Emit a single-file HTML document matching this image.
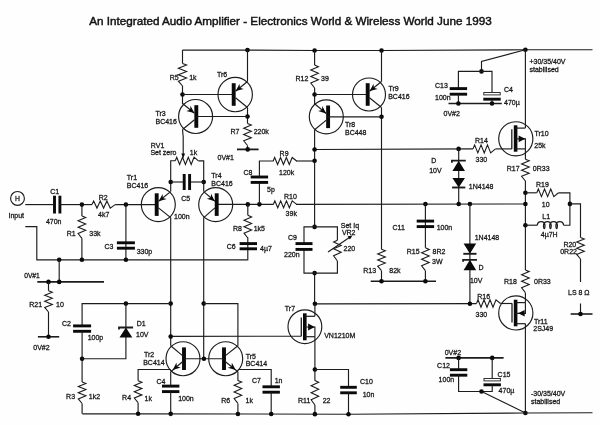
<!DOCTYPE html>
<html><head><meta charset="utf-8"><title>An Integrated Audio Amplifier</title>
<style>
html,body{margin:0;padding:0;background:#fefefe;}
svg{display:block;filter:grayscale(1);}
text{font-family:"Liberation Sans",sans-serif;fill:#151515;stroke:#151515;stroke-width:0.27;}
</style></head>
<body>
<svg width="600" height="425" viewBox="0 0 600 425">
<rect x="0" y="0" width="600" height="425" fill="#fefefe"/>
<text x="89.20" y="25.40" font-size="11.7" font-weight="normal" text-anchor="start" textLength="402.5" lengthAdjust="spacingAndGlyphs" style="stroke-width:0.45;fill:#111;stroke:#111">An Integrated Audio Amplifier - Electronics World &amp; Wireless World June 1993</text>
<polyline points="182.50,50.10 247.50,50.10 314.50,50.50 381.50,50.50 525.40,49.80 592.50,49.70" fill="none" stroke="#1c1c1c" stroke-width="1.15" stroke-linejoin="miter"/>
<polyline points="182.50,50.10 182.50,63.50" fill="none" stroke="#1c1c1c" stroke-width="1.15" stroke-linejoin="miter"/>
<polyline points="182.50,63.50 186.60,65.11 178.40,68.32 186.60,71.54 178.40,74.75 186.60,77.96 178.40,81.18 182.50,86.00" fill="none" stroke="#1c1c1c" stroke-width="1.1" stroke-linejoin="miter"/>
<polyline points="182.50,86.00 182.50,104.00" fill="none" stroke="#1c1c1c" stroke-width="1.15" stroke-linejoin="miter"/>
<circle cx="182.50" cy="94.50" r="2.3" fill="#0a0a0a"/>
<text x="169.70" y="80.40" font-size="7" font-weight="normal" text-anchor="start" >R5</text>
<text x="189.20" y="80.40" font-size="7" font-weight="normal" text-anchor="start" >1k</text>
<circle cx="247.50" cy="50.10" r="2.3" fill="#0a0a0a"/>
<polyline points="247.50,50.10 247.50,81.50" fill="none" stroke="#1c1c1c" stroke-width="1.15" stroke-linejoin="miter"/>
<polyline points="182.50,94.50 233.70,94.50" fill="none" stroke="#1c1c1c" stroke-width="1.15" stroke-linejoin="miter"/>
<circle cx="235.20" cy="94.50" r="17.2" fill="none" stroke="#1c1c1c" stroke-width="1.15"/>
<rect x="231.75" y="83.20" width="3.9" height="22.60" fill="#0a0a0a"/>
<polyline points="235.50,91.20 247.50,81.50" fill="none" stroke="#1c1c1c" stroke-width="1.15" stroke-linejoin="miter"/>
<polyline points="235.50,97.80 247.50,107.50" fill="none" stroke="#1c1c1c" stroke-width="1.15" stroke-linejoin="miter"/>
<polygon points="235.70,91.10 239.54,83.76 239.84,87.76 243.69,88.89" fill="#0a0a0a"/>
<polyline points="247.50,107.50 247.50,123.50" fill="none" stroke="#1c1c1c" stroke-width="1.15" stroke-linejoin="miter"/>
<circle cx="247.50" cy="116.50" r="2.3" fill="#0a0a0a"/>
<text x="217.00" y="77.00" font-size="7" font-weight="normal" text-anchor="start" >Tr6</text>
<circle cx="195.60" cy="116.50" r="17" fill="none" stroke="#1c1c1c" stroke-width="1.15"/>
<rect x="194.35" y="105.20" width="3.9" height="22.60" fill="#0a0a0a"/>
<polyline points="194.50,113.20 182.50,103.50" fill="none" stroke="#1c1c1c" stroke-width="1.15" stroke-linejoin="miter"/>
<polyline points="194.50,119.80 182.50,129.50" fill="none" stroke="#1c1c1c" stroke-width="1.15" stroke-linejoin="miter"/>
<polygon points="194.30,113.10 186.31,110.89 190.16,109.76 190.46,105.76" fill="#0a0a0a"/>
<polyline points="196.30,116.50 247.50,116.50" fill="none" stroke="#1c1c1c" stroke-width="1.15" stroke-linejoin="miter"/>
<polyline points="182.50,129.50 183.20,137.00 183.20,154.00" fill="none" stroke="#1c1c1c" stroke-width="1.15" stroke-linejoin="miter"/>
<text x="155.50" y="116.20" font-size="7" font-weight="normal" text-anchor="start" >Tr3</text>
<text x="155.50" y="123.80" font-size="7" font-weight="normal" text-anchor="start" >BC416</text>
<polyline points="247.50,123.50 251.30,125.07 243.70,128.21 251.30,131.36 243.70,134.50 251.30,137.64 243.70,140.79 247.50,145.50" fill="none" stroke="#1c1c1c" stroke-width="1.1" stroke-linejoin="miter"/>
<polyline points="247.50,145.50 247.50,149.40" fill="none" stroke="#1c1c1c" stroke-width="1.15" stroke-linejoin="miter"/>
<polyline points="237.00,149.40 258.60,149.40" fill="none" stroke="#1c1c1c" stroke-width="1.8" stroke-linejoin="miter"/>
<circle cx="247.70" cy="149.40" r="2.3" fill="#0a0a0a"/>
<text x="230.50" y="133.80" font-size="7" font-weight="normal" text-anchor="start" >R7</text>
<text x="253.70" y="133.80" font-size="7" font-weight="normal" text-anchor="start" >220k</text>
<text x="217.50" y="160.30" font-size="7" font-weight="normal" text-anchor="start" >0V#1</text>
<circle cx="314.60" cy="50.50" r="2.3" fill="#0a0a0a"/>
<polyline points="314.60,50.50 314.60,65.00" fill="none" stroke="#1c1c1c" stroke-width="1.15" stroke-linejoin="miter"/>
<polyline points="314.60,65.00 318.40,66.64 310.80,69.93 318.40,73.21 310.80,76.50 318.40,79.79 310.80,83.07 314.60,88.00" fill="none" stroke="#1c1c1c" stroke-width="1.1" stroke-linejoin="miter"/>
<polyline points="314.60,88.00 314.60,104.00" fill="none" stroke="#1c1c1c" stroke-width="1.15" stroke-linejoin="miter"/>
<circle cx="314.60" cy="94.50" r="2.3" fill="#0a0a0a"/>
<text x="295.50" y="80.80" font-size="7" font-weight="normal" text-anchor="start" >R12</text>
<text x="321.00" y="80.80" font-size="7" font-weight="normal" text-anchor="start" >39</text>
<circle cx="381.50" cy="50.50" r="2.3" fill="#0a0a0a"/>
<polyline points="381.50,50.50 381.50,81.50" fill="none" stroke="#1c1c1c" stroke-width="1.15" stroke-linejoin="miter"/>
<polyline points="314.60,94.50 367.50,94.50" fill="none" stroke="#1c1c1c" stroke-width="1.15" stroke-linejoin="miter"/>
<circle cx="369.00" cy="94.50" r="16.5" fill="none" stroke="#1c1c1c" stroke-width="1.15"/>
<rect x="365.75" y="83.20" width="3.9" height="22.60" fill="#0a0a0a"/>
<polyline points="369.50,91.20 381.50,81.50" fill="none" stroke="#1c1c1c" stroke-width="1.15" stroke-linejoin="miter"/>
<polyline points="369.50,97.80 381.50,107.50" fill="none" stroke="#1c1c1c" stroke-width="1.15" stroke-linejoin="miter"/>
<polygon points="369.70,91.10 373.54,83.76 373.84,87.76 377.69,88.89" fill="#0a0a0a"/>
<polyline points="381.50,107.50 381.50,249.30" fill="none" stroke="#1c1c1c" stroke-width="1.15" stroke-linejoin="miter"/>
<polyline points="381.50,270.70 381.50,281.30" fill="none" stroke="#1c1c1c" stroke-width="1.15" stroke-linejoin="miter"/>
<circle cx="381.50" cy="116.80" r="2.3" fill="#0a0a0a"/>
<text x="388.40" y="90.80" font-size="7" font-weight="normal" text-anchor="start" >Tr9</text>
<text x="388.20" y="99.30" font-size="7" font-weight="normal" text-anchor="start" >BC416</text>
<circle cx="326.30" cy="116.80" r="17" fill="none" stroke="#1c1c1c" stroke-width="1.15"/>
<rect x="326.15" y="105.50" width="3.9" height="22.60" fill="#0a0a0a"/>
<polyline points="326.30,113.50 314.60,103.80" fill="none" stroke="#1c1c1c" stroke-width="1.15" stroke-linejoin="miter"/>
<polyline points="326.30,120.10 314.60,129.80" fill="none" stroke="#1c1c1c" stroke-width="1.15" stroke-linejoin="miter"/>
<polygon points="326.10,113.40 318.14,111.09 322.00,110.00 322.36,106.01" fill="#0a0a0a"/>
<polyline points="327.50,116.80 381.50,116.80" fill="none" stroke="#1c1c1c" stroke-width="1.15" stroke-linejoin="miter"/>
<polyline points="314.60,129.80 314.60,226.90" fill="none" stroke="#1c1c1c" stroke-width="1.15" stroke-linejoin="miter"/>
<polyline points="314.60,273.10 314.60,304.00" fill="none" stroke="#1c1c1c" stroke-width="1.15" stroke-linejoin="miter"/>
<text x="345.00" y="126.80" font-size="7" font-weight="normal" text-anchor="start" >Tr8</text>
<text x="345.00" y="135.30" font-size="7" font-weight="normal" text-anchor="start" >BC448</text>
<circle cx="525.40" cy="49.80" r="2.3" fill="#0a0a0a"/>
<polyline points="525.40,49.80 481.50,61.50 481.50,71.40" fill="none" stroke="#1c1c1c" stroke-width="1.15" stroke-linejoin="miter"/>
<circle cx="481.50" cy="71.40" r="2.3" fill="#0a0a0a"/>
<polyline points="458.40,88.00 458.40,71.40 492.00,71.40 492.00,93.00" fill="none" stroke="#1c1c1c" stroke-width="1.15" stroke-linejoin="miter"/>
<rect x="449.70" y="87.15" width="17.40" height="2.9" fill="#0a0a0a"/>
<rect x="449.70" y="92.75" width="17.40" height="2.9" fill="#0a0a0a"/>
<rect x="483.80" y="92.50" width="16.40" height="2.4" fill="#fff" stroke="#1c1c1c" stroke-width="0.9"/>
<rect x="483.30" y="97.75" width="17.40" height="2.9" fill="#0a0a0a"/>
<polyline points="458.40,94.20 458.40,103.50" fill="none" stroke="#1c1c1c" stroke-width="1.15" stroke-linejoin="miter"/>
<polyline points="492.00,99.20 492.00,103.50" fill="none" stroke="#1c1c1c" stroke-width="1.15" stroke-linejoin="miter"/>
<polyline points="448.50,103.50 501.80,103.50" fill="none" stroke="#1c1c1c" stroke-width="1.6" stroke-linejoin="miter"/>
<circle cx="458.40" cy="103.50" r="2.3" fill="#0a0a0a"/>
<circle cx="492.00" cy="103.50" r="2.3" fill="#0a0a0a"/>
<text x="435.00" y="88.00" font-size="7" font-weight="normal" text-anchor="start" >C13</text>
<text x="435.00" y="100.00" font-size="7" font-weight="normal" text-anchor="start" >100n</text>
<text x="504.00" y="91.50" font-size="7" font-weight="normal" text-anchor="start" >C4</text>
<text x="504.00" y="104.50" font-size="7" font-weight="normal" text-anchor="start" >470µ</text>
<text x="443.50" y="116.00" font-size="7" font-weight="normal" text-anchor="start" >0V#2</text>
<text x="529.50" y="63.50" font-size="7" font-weight="normal" text-anchor="start" >+30/35/40V</text>
<text x="529.50" y="72.00" font-size="7" font-weight="normal" text-anchor="start" >stabilised</text>
<polyline points="525.40,49.80 525.40,128.10" fill="none" stroke="#1c1c1c" stroke-width="1.15" stroke-linejoin="miter"/>
<circle cx="515.80" cy="138.80" r="17.1" fill="none" stroke="#1c1c1c" stroke-width="1.15"/>
<polyline points="511.80,129.20 511.80,148.90" fill="none" stroke="#1c1c1c" stroke-width="1.3" stroke-linejoin="miter"/>
<rect x="513.80" y="125.30" width="3.6" height="26.40" fill="#0a0a0a"/>
<polyline points="515.60,128.10 525.40,128.10" fill="none" stroke="#1c1c1c" stroke-width="1.2" stroke-linejoin="miter"/>
<polyline points="515.60,148.90 525.40,148.90" fill="none" stroke="#1c1c1c" stroke-width="1.2" stroke-linejoin="miter"/>
<polyline points="515.60,138.80 525.40,138.80 525.40,148.90" fill="none" stroke="#1c1c1c" stroke-width="1.15" stroke-linejoin="miter"/>
<polygon points="525.20,138.80 518.60,142.20 518.60,138.80 518.60,135.40" fill="#0a0a0a"/>
<polyline points="525.40,148.90 525.40,159.30" fill="none" stroke="#1c1c1c" stroke-width="1.15" stroke-linejoin="miter"/>
<polyline points="525.40,159.30 529.20,160.85 521.60,163.95 529.20,167.05 521.60,170.15 529.20,173.25 521.60,176.35 525.40,181.00" fill="none" stroke="#1c1c1c" stroke-width="1.1" stroke-linejoin="miter"/>
<polyline points="525.40,181.00 525.40,270.00" fill="none" stroke="#1c1c1c" stroke-width="1.15" stroke-linejoin="miter"/>
<text x="534.50" y="136.00" font-size="7" font-weight="normal" text-anchor="start" >Tr10</text>
<text x="534.30" y="147.60" font-size="7" font-weight="normal" text-anchor="start" >25k</text>
<text x="506.70" y="170.50" font-size="7" font-weight="normal" text-anchor="start" >R17</text>
<text x="532.80" y="170.50" font-size="7" font-weight="normal" text-anchor="start" >0R33</text>
<polyline points="314.60,149.50 473.00,148.90" fill="none" stroke="#1c1c1c" stroke-width="1.15" stroke-linejoin="miter"/>
<polyline points="473.00,148.90 474.61,144.90 477.82,152.90 481.04,144.90 484.25,152.90 487.46,144.90 490.68,152.90 495.50,148.90" fill="none" stroke="#1c1c1c" stroke-width="1.1" stroke-linejoin="miter"/>
<polyline points="495.50,148.90 511.80,148.90" fill="none" stroke="#1c1c1c" stroke-width="1.15" stroke-linejoin="miter"/>
<circle cx="314.60" cy="149.50" r="2.3" fill="#0a0a0a"/>
<circle cx="458.60" cy="148.90" r="2.3" fill="#0a0a0a"/>
<text x="475.00" y="143.00" font-size="7" font-weight="normal" text-anchor="start" >R14</text>
<text x="475.50" y="161.80" font-size="7" font-weight="normal" text-anchor="start" >330</text>
<polyline points="458.70,149.10 458.70,204.00" fill="none" stroke="#1c1c1c" stroke-width="1.15" stroke-linejoin="miter"/>
<polygon points="458.70,160.70 452.40,171.00 465.00,171.00" fill="#0a0a0a"/>
<polyline points="451.90,162.70 451.90,160.70 465.80,160.70" fill="none" stroke="#1c1c1c" stroke-width="1.8" stroke-linejoin="miter"/>
<polygon points="452.40,178.00 465.00,178.00 458.70,187.50" fill="#0a0a0a"/>
<polyline points="452.10,187.50 465.30,187.50" fill="none" stroke="#1c1c1c" stroke-width="1.9" stroke-linejoin="miter"/>
<text x="431.30" y="163.00" font-size="7" font-weight="normal" text-anchor="start" >D</text>
<text x="429.20" y="173.20" font-size="7" font-weight="normal" text-anchor="start" >10V</text>
<text x="468.80" y="189.30" font-size="7" font-weight="normal" text-anchor="start" >1N4148</text>
<polyline points="216.70,204.44 273.60,204.35" fill="none" stroke="#1c1c1c" stroke-width="1.15" stroke-linejoin="miter"/>
<polyline points="273.40,204.33 274.85,200.83 277.75,207.83 280.65,200.83 283.55,207.83 286.45,200.83 289.35,207.83 292.25,200.83 296.60,204.33" fill="none" stroke="#1c1c1c" stroke-width="1.1" stroke-linejoin="miter"/>
<polyline points="296.00,204.32 525.40,203.95" fill="none" stroke="#1c1c1c" stroke-width="1.15" stroke-linejoin="miter"/>
<circle cx="247.80" cy="204.39" r="2.3" fill="#0a0a0a"/>
<circle cx="259.40" cy="204.37" r="2.3" fill="#0a0a0a"/>
<circle cx="425.40" cy="204.11" r="2.3" fill="#0a0a0a"/>
<circle cx="458.70" cy="204.06" r="2.3" fill="#0a0a0a"/>
<circle cx="469.90" cy="204.04" r="2.3" fill="#0a0a0a"/>
<circle cx="525.40" cy="203.95" r="2.3" fill="#0a0a0a"/>
<circle cx="525.40" cy="192.80" r="2.3" fill="#0a0a0a"/>
<circle cx="525.40" cy="225.20" r="2.3" fill="#0a0a0a"/>
<text x="284.00" y="198.50" font-size="7" font-weight="normal" text-anchor="start" >R10</text>
<text x="285.60" y="216.00" font-size="7" font-weight="normal" text-anchor="start" >39k</text>
<polyline points="525.40,192.80 536.80,192.80" fill="none" stroke="#1c1c1c" stroke-width="1.15" stroke-linejoin="miter"/>
<polyline points="536.80,192.80 538.35,189.00 541.45,196.60 544.55,189.00 547.65,196.60 550.75,189.00 553.85,196.60 558.50,192.80" fill="none" stroke="#1c1c1c" stroke-width="1.1" stroke-linejoin="miter"/>
<polyline points="558.50,192.80 569.90,192.80 569.90,225.20 563.60,225.20" fill="none" stroke="#1c1c1c" stroke-width="1.15" stroke-linejoin="miter"/>
<circle cx="569.90" cy="203.88" r="2.3" fill="#0a0a0a"/>
<text x="536.00" y="187.20" font-size="7" font-weight="normal" text-anchor="start" >R19</text>
<text x="541.80" y="207.40" font-size="7" font-weight="normal" text-anchor="start" >10</text>
<polyline points="525.40,225.20 537.30,225.20" fill="none" stroke="#1c1c1c" stroke-width="1.15" stroke-linejoin="miter"/>
<path d="M537.3,225.2 c0.4,-4.8 7.3,-4.8 7.7,0 c0,4.4 -1.5,4.4 -1.5,0 c0.4,-4.8 7.3,-4.8 7.7,0 c0,4.4 -1.5,4.4 -1.5,0 c0.4,-4.8 7.3,-4.8 7.7,0 c0,4.4 -1.5,4.4 -1.5,0 c0.4,-4.8 7.3,-4.8 7.7,0" fill="none" stroke="#1c1c1c" stroke-width="1.25"/>
<text x="542.30" y="219.00" font-size="7" font-weight="normal" text-anchor="start" >L1</text>
<text x="540.80" y="236.50" font-size="7" font-weight="normal" text-anchor="start" >4µ7H</text>
<polyline points="569.90,203.88 580.50,203.86 580.50,237.50" fill="none" stroke="#1c1c1c" stroke-width="1.15" stroke-linejoin="miter"/>
<polyline points="580.50,237.50 584.30,239.04 576.70,242.11 584.30,245.18 576.70,248.25 584.30,251.32 576.70,254.39 580.50,259.00" fill="none" stroke="#1c1c1c" stroke-width="1.1" stroke-linejoin="miter"/>
<polyline points="580.50,259.00 580.50,282.00" fill="none" stroke="#1c1c1c" stroke-width="1.15" stroke-linejoin="miter"/>
<text x="563.40" y="246.80" font-size="7" font-weight="normal" text-anchor="start" >R20</text>
<text x="560.20" y="253.90" font-size="7" font-weight="normal" text-anchor="start" >0R22</text>
<text x="568.00" y="295.30" font-size="7" font-weight="normal" text-anchor="start" >LS 8 Ω</text>
<polyline points="580.50,303.50 580.50,314.00" fill="none" stroke="#1c1c1c" stroke-width="1.15" stroke-linejoin="miter"/>
<polyline points="570.70,314.00 592.50,314.00" fill="none" stroke="#1c1c1c" stroke-width="1.6" stroke-linejoin="miter"/>
<circle cx="580.50" cy="314.00" r="2.3" fill="#0a0a0a"/>
<polyline points="259.40,204.37 259.40,182.40" fill="none" stroke="#1c1c1c" stroke-width="1.15" stroke-linejoin="miter"/>
<rect x="250.70" y="175.55" width="17.40" height="2.9" fill="#0a0a0a"/>
<rect x="250.70" y="180.95" width="17.40" height="2.9" fill="#0a0a0a"/>
<polyline points="259.40,177.00 259.40,161.00 273.60,161.00" fill="none" stroke="#1c1c1c" stroke-width="1.15" stroke-linejoin="miter"/>
<polyline points="273.20,161.00 274.66,157.50 277.59,164.50 280.51,157.50 283.44,164.50 286.36,157.50 289.29,164.50 292.21,157.50 296.60,161.00" fill="none" stroke="#1c1c1c" stroke-width="1.1" stroke-linejoin="miter"/>
<polyline points="296.00,161.00 314.60,161.00" fill="none" stroke="#1c1c1c" stroke-width="1.15" stroke-linejoin="miter"/>
<circle cx="314.60" cy="160.80" r="2.3" fill="#0a0a0a"/>
<text x="279.60" y="155.50" font-size="7" font-weight="normal" text-anchor="start" >R9</text>
<text x="279.00" y="175.00" font-size="7" font-weight="normal" text-anchor="start" >120k</text>
<text x="243.50" y="175.00" font-size="7" font-weight="normal" text-anchor="start" >C8</text>
<text x="267.00" y="191.60" font-size="7" font-weight="normal" text-anchor="start" >5p</text>
<polyline points="247.80,204.39 247.80,215.30" fill="none" stroke="#1c1c1c" stroke-width="1.15" stroke-linejoin="miter"/>
<polyline points="247.80,215.30 251.60,216.92 244.00,220.16 251.60,223.41 244.00,226.65 251.60,229.89 244.00,233.14 247.80,238.00" fill="none" stroke="#1c1c1c" stroke-width="1.1" stroke-linejoin="miter"/>
<polyline points="247.80,237.50 247.80,259.50" fill="none" stroke="#1c1c1c" stroke-width="1.15" stroke-linejoin="miter"/>
<rect x="239.60" y="242.15" width="17.40" height="2.9" fill="#0a0a0a"/>
<rect x="239.60" y="247.35" width="17.40" height="2.9" fill="#0a0a0a"/>
<text x="233.00" y="231.00" font-size="7" font-weight="normal" text-anchor="start" >R8</text>
<text x="253.70" y="231.00" font-size="7" font-weight="normal" text-anchor="start" >1k5</text>
<text x="226.70" y="249.20" font-size="7" font-weight="normal" text-anchor="start" >C6</text>
<text x="260.00" y="250.50" font-size="7" font-weight="normal" text-anchor="start" >4µ7</text>
<polyline points="425.40,204.11 425.40,247.80" fill="none" stroke="#1c1c1c" stroke-width="1.15" stroke-linejoin="miter"/>
<rect x="416.70" y="219.65" width="17.40" height="2.9" fill="#0a0a0a"/>
<rect x="416.70" y="225.15" width="17.40" height="2.9" fill="#0a0a0a"/>
<polyline points="425.40,247.80 429.20,249.44 421.60,252.71 429.20,255.98 421.60,259.25 429.20,262.52 421.60,265.79 425.40,270.70" fill="none" stroke="#1c1c1c" stroke-width="1.1" stroke-linejoin="miter"/>
<polyline points="425.40,270.70 425.40,281.30" fill="none" stroke="#1c1c1c" stroke-width="1.15" stroke-linejoin="miter"/>
<polyline points="381.50,249.30 385.30,250.83 377.70,253.89 385.30,256.94 377.70,260.00 385.30,263.06 377.70,266.11 381.50,270.70" fill="none" stroke="#1c1c1c" stroke-width="1.1" stroke-linejoin="miter"/>
<polyline points="370.70,281.30 436.00,281.30" fill="none" stroke="#1c1c1c" stroke-width="1.6" stroke-linejoin="miter"/>
<circle cx="381.50" cy="281.30" r="2.3" fill="#0a0a0a"/>
<circle cx="425.40" cy="281.30" r="2.3" fill="#0a0a0a"/>
<text x="392.50" y="229.50" font-size="7" font-weight="normal" text-anchor="start" >C11</text>
<text x="436.70" y="229.50" font-size="7" font-weight="normal" text-anchor="start" >100n</text>
<text x="406.70" y="253.60" font-size="7" font-weight="normal" text-anchor="start" >R15</text>
<text x="432.60" y="253.60" font-size="7" font-weight="normal" text-anchor="start" >8R2</text>
<text x="432.00" y="263.80" font-size="7" font-weight="normal" text-anchor="start" >3W</text>
<text x="363.20" y="272.50" font-size="7" font-weight="normal" text-anchor="start" >R13</text>
<text x="389.30" y="272.50" font-size="7" font-weight="normal" text-anchor="start" >82k</text>
<circle cx="314.60" cy="226.90" r="2.3" fill="#0a0a0a"/>
<circle cx="314.60" cy="273.10" r="2.3" fill="#0a0a0a"/>
<polyline points="304.00,243.00 304.00,226.90 337.40,226.90 337.40,240.20" fill="none" stroke="#1c1c1c" stroke-width="1.15" stroke-linejoin="miter"/>
<polyline points="337.40,240.20 333.60,241.93 341.20,245.40 333.60,248.87 341.20,252.33 333.60,255.80 337.40,261.00" fill="none" stroke="#1c1c1c" stroke-width="1.1" stroke-linejoin="miter"/>
<polyline points="337.40,261.00 337.40,273.10 304.00,273.10 304.00,249.30" fill="none" stroke="#1c1c1c" stroke-width="1.15" stroke-linejoin="miter"/>
<rect x="295.50" y="242.15" width="17.00" height="2.9" fill="#0a0a0a"/>
<rect x="295.50" y="247.95" width="17.00" height="2.9" fill="#0a0a0a"/>
<polyline points="328.00,252.00 350.50,236.80" fill="none" stroke="#1c1c1c" stroke-width="1.15" stroke-linejoin="miter"/>
<polygon points="352.50,235.40 349.89,239.58 348.77,237.92 347.65,236.26" fill="#0a0a0a"/>
<text x="288.00" y="240.00" font-size="7" font-weight="normal" text-anchor="start" >C9</text>
<text x="284.00" y="257.40" font-size="7" font-weight="normal" text-anchor="start" >220n</text>
<text x="340.80" y="227.80" font-size="7" font-weight="normal" text-anchor="start" >Set Iq</text>
<text x="341.90" y="235.20" font-size="7" font-weight="normal" text-anchor="start" >VR2</text>
<text x="343.50" y="251.40" font-size="7" font-weight="normal" text-anchor="start" >220</text>
<polyline points="469.90,204.04 469.90,303.80" fill="none" stroke="#1c1c1c" stroke-width="1.15" stroke-linejoin="miter"/>
<polygon points="463.60,243.60 476.20,243.60 469.90,253.80" fill="#0a0a0a"/>
<polyline points="463.30,253.80 476.50,253.80" fill="none" stroke="#1c1c1c" stroke-width="1.9" stroke-linejoin="miter"/>
<polygon points="469.90,259.80 463.60,270.20 476.20,270.20" fill="#0a0a0a"/>
<polyline points="463.10,261.80 463.10,259.80 477.00,259.80" fill="none" stroke="#1c1c1c" stroke-width="1.8" stroke-linejoin="miter"/>
<text x="474.70" y="240.00" font-size="7" font-weight="normal" text-anchor="start" >1N4148</text>
<text x="478.50" y="270.30" font-size="7" font-weight="normal" text-anchor="start" >D</text>
<text x="469.90" y="283.40" font-size="7" font-weight="normal" text-anchor="start" >10V</text>
<polyline points="525.40,270.00 529.20,271.62 521.60,274.86 529.20,278.11 521.60,281.35 529.20,284.59 521.60,287.84 525.40,292.70" fill="none" stroke="#1c1c1c" stroke-width="1.1" stroke-linejoin="miter"/>
<polyline points="525.40,292.70 525.40,302.60" fill="none" stroke="#1c1c1c" stroke-width="1.15" stroke-linejoin="miter"/>
<text x="504.00" y="284.00" font-size="7" font-weight="normal" text-anchor="start" >R18</text>
<text x="534.00" y="284.00" font-size="7" font-weight="normal" text-anchor="start" >0R33</text>
<polyline points="314.60,303.80 476.50,303.60" fill="none" stroke="#1c1c1c" stroke-width="1.15" stroke-linejoin="miter"/>
<polyline points="476.50,303.50 478.00,299.80 481.00,307.20 484.00,299.80 487.00,307.20 490.00,299.80 493.00,307.20 496.00,299.80 500.50,303.50" fill="none" stroke="#1c1c1c" stroke-width="1.1" stroke-linejoin="miter"/>
<polyline points="500.50,303.50 512.00,303.50" fill="none" stroke="#1c1c1c" stroke-width="1.15" stroke-linejoin="miter"/>
<circle cx="314.90" cy="303.80" r="2.3" fill="#0a0a0a"/>
<circle cx="469.90" cy="303.80" r="2.3" fill="#0a0a0a"/>
<circle cx="515.80" cy="312.90" r="17.1" fill="none" stroke="#1c1c1c" stroke-width="1.15"/>
<polyline points="512.00,303.30 512.00,322.50" fill="none" stroke="#1c1c1c" stroke-width="1.3" stroke-linejoin="miter"/>
<rect x="513.80" y="299.70" width="3.6" height="26.60" fill="#0a0a0a"/>
<polyline points="515.60,302.60 525.40,302.60" fill="none" stroke="#1c1c1c" stroke-width="1.2" stroke-linejoin="miter"/>
<polyline points="515.60,323.70 525.40,323.70" fill="none" stroke="#1c1c1c" stroke-width="1.2" stroke-linejoin="miter"/>
<polyline points="515.60,313.30 525.40,313.30 525.40,302.60" fill="none" stroke="#1c1c1c" stroke-width="1.15" stroke-linejoin="miter"/>
<polygon points="518.20,313.30 524.60,310.00 524.60,313.30 524.60,316.60" fill="#0a0a0a"/>
<polyline points="525.40,323.70 525.40,413.00" fill="none" stroke="#1c1c1c" stroke-width="1.15" stroke-linejoin="miter"/>
<text x="477.30" y="298.60" font-size="7" font-weight="normal" text-anchor="start" >R16</text>
<text x="475.50" y="317.30" font-size="7" font-weight="normal" text-anchor="start" >330</text>
<text x="534.00" y="324.00" font-size="7" font-weight="normal" text-anchor="start" >Tr11</text>
<text x="533.30" y="331.40" font-size="7" font-weight="normal" text-anchor="start" >2SJ49</text>
<polyline points="445.40,357.90 503.60,357.90" fill="none" stroke="#1c1c1c" stroke-width="1.6" stroke-linejoin="miter"/>
<circle cx="458.60" cy="357.90" r="2.3" fill="#0a0a0a"/>
<circle cx="492.20" cy="357.90" r="2.3" fill="#0a0a0a"/>
<polyline points="458.60,357.90 458.60,369.00" fill="none" stroke="#1c1c1c" stroke-width="1.15" stroke-linejoin="miter"/>
<rect x="449.90" y="368.25" width="17.40" height="2.9" fill="#0a0a0a"/>
<rect x="449.90" y="373.75" width="17.40" height="2.9" fill="#0a0a0a"/>
<polyline points="492.20,357.90 492.20,379.00" fill="none" stroke="#1c1c1c" stroke-width="1.15" stroke-linejoin="miter"/>
<rect x="484.00" y="378.50" width="16.40" height="2.4" fill="#fff" stroke="#1c1c1c" stroke-width="0.9"/>
<rect x="483.50" y="383.35" width="17.40" height="2.9" fill="#0a0a0a"/>
<polyline points="458.60,374.70 458.60,391.50 492.20,391.50 492.20,385.00" fill="none" stroke="#1c1c1c" stroke-width="1.15" stroke-linejoin="miter"/>
<circle cx="481.50" cy="391.50" r="2.3" fill="#0a0a0a"/>
<polyline points="481.50,391.50 525.40,413.00" fill="none" stroke="#1c1c1c" stroke-width="1.15" stroke-linejoin="miter"/>
<circle cx="525.40" cy="413.00" r="2.3" fill="#0a0a0a"/>
<text x="444.70" y="355.00" font-size="7" font-weight="normal" text-anchor="start" >0V#2</text>
<text x="437.10" y="367.80" font-size="7" font-weight="normal" text-anchor="start" >C12</text>
<text x="438.60" y="382.00" font-size="7" font-weight="normal" text-anchor="start" >100n</text>
<text x="497.60" y="376.50" font-size="7" font-weight="normal" text-anchor="start" >C15</text>
<text x="498.60" y="392.70" font-size="7" font-weight="normal" text-anchor="start" >470µ</text>
<text x="531.00" y="395.60" font-size="7" font-weight="normal" text-anchor="start" >-30/35/40V</text>
<text x="531.00" y="404.00" font-size="7" font-weight="normal" text-anchor="start" >stabilised</text>
<polyline points="82.30,413.80 138.00,413.80 348.50,414.20 525.40,413.00 592.50,412.70" fill="none" stroke="#1c1c1c" stroke-width="1.15" stroke-linejoin="miter"/>
<polyline points="314.90,303.80 314.90,316.30" fill="none" stroke="#1c1c1c" stroke-width="1.15" stroke-linejoin="miter"/>
<circle cx="304.90" cy="326.70" r="16.9" fill="none" stroke="#1c1c1c" stroke-width="1.15"/>
<polyline points="301.30,317.50 301.30,336.20" fill="none" stroke="#1c1c1c" stroke-width="1.3" stroke-linejoin="miter"/>
<rect x="303.00" y="313.30" width="3.6" height="27.00" fill="#0a0a0a"/>
<polyline points="304.80,316.30 314.90,316.30" fill="none" stroke="#1c1c1c" stroke-width="1.2" stroke-linejoin="miter"/>
<polyline points="304.80,336.70 314.90,336.70" fill="none" stroke="#1c1c1c" stroke-width="1.2" stroke-linejoin="miter"/>
<polyline points="304.80,327.00 314.90,327.00 314.90,336.70" fill="none" stroke="#1c1c1c" stroke-width="1.15" stroke-linejoin="miter"/>
<polygon points="314.70,327.00 308.10,330.40 308.10,327.00 308.10,323.60" fill="#0a0a0a"/>
<polyline points="314.90,336.70 314.90,380.70" fill="none" stroke="#1c1c1c" stroke-width="1.15" stroke-linejoin="miter"/>
<polyline points="314.90,380.40 318.70,382.16 311.10,385.67 318.70,389.19 311.10,392.70 318.70,396.21 311.10,399.73 314.90,405.00" fill="none" stroke="#1c1c1c" stroke-width="1.1" stroke-linejoin="miter"/>
<polyline points="314.90,405.00 314.90,414.14" fill="none" stroke="#1c1c1c" stroke-width="1.15" stroke-linejoin="miter"/>
<circle cx="314.90" cy="369.50" r="2.3" fill="#0a0a0a"/>
<circle cx="314.90" cy="414.14" r="2.3" fill="#0a0a0a"/>
<polyline points="314.90,369.50 348.50,369.50 348.50,387.30" fill="none" stroke="#1c1c1c" stroke-width="1.15" stroke-linejoin="miter"/>
<rect x="340.20" y="385.85" width="16.60" height="2.9" fill="#0a0a0a"/>
<rect x="340.20" y="391.35" width="16.60" height="2.9" fill="#0a0a0a"/>
<polyline points="348.50,392.80 348.50,414.20" fill="none" stroke="#1c1c1c" stroke-width="1.15" stroke-linejoin="miter"/>
<circle cx="348.50" cy="414.20" r="2.3" fill="#0a0a0a"/>
<text x="284.80" y="310.60" font-size="7" font-weight="normal" text-anchor="start" >Tr7</text>
<text x="324.20" y="338.40" font-size="7" font-weight="normal" text-anchor="start" >VN1210M</text>
<text x="360.00" y="384.00" font-size="7" font-weight="normal" text-anchor="start" >C10</text>
<text x="362.70" y="396.60" font-size="7" font-weight="normal" text-anchor="start" >10n</text>
<text x="298.00" y="402.50" font-size="7" font-weight="normal" text-anchor="start" >R11</text>
<text x="322.70" y="402.50" font-size="7" font-weight="normal" text-anchor="start" >22</text>
<polyline points="170.70,336.40 301.30,336.20" fill="none" stroke="#1c1c1c" stroke-width="1.15" stroke-linejoin="miter"/>
<circle cx="17.50" cy="198.40" r="6.9" fill="none" stroke="#1c1c1c" stroke-width="1.15"/>
<text x="17.50" y="200.90" font-size="6.8" font-weight="normal" text-anchor="middle" >H</text>
<text x="8.50" y="217.80" font-size="7" font-weight="normal" text-anchor="start" >Input</text>
<polyline points="25.30,204.60 53.00,204.60" fill="none" stroke="#1c1c1c" stroke-width="1.15" stroke-linejoin="miter"/>
<rect x="53.05" y="195.70" width="2.9" height="17.80" fill="#0a0a0a"/>
<rect x="58.45" y="195.70" width="2.9" height="17.80" fill="#0a0a0a"/>
<polyline points="60.00,204.60 92.00,204.60" fill="none" stroke="#1c1c1c" stroke-width="1.15" stroke-linejoin="miter"/>
<polyline points="92.00,204.60 93.66,201.10 96.97,208.10 100.29,201.10 103.60,208.10 106.91,201.10 110.23,208.10 115.20,204.60" fill="none" stroke="#1c1c1c" stroke-width="1.1" stroke-linejoin="miter"/>
<polyline points="115.20,204.60 156.70,204.60" fill="none" stroke="#1c1c1c" stroke-width="1.15" stroke-linejoin="miter"/>
<circle cx="81.90" cy="204.60" r="2.3" fill="#0a0a0a"/>
<circle cx="125.90" cy="204.60" r="2.3" fill="#0a0a0a"/>
<text x="50.20" y="193.60" font-size="7" font-weight="normal" text-anchor="start" >C1</text>
<text x="45.90" y="224.00" font-size="7" font-weight="normal" text-anchor="start" >470n</text>
<text x="98.70" y="200.00" font-size="7" font-weight="normal" text-anchor="start" >R2</text>
<text x="98.10" y="216.50" font-size="7" font-weight="normal" text-anchor="start" >4k7</text>
<polyline points="81.90,204.60 81.90,216.00" fill="none" stroke="#1c1c1c" stroke-width="1.15" stroke-linejoin="miter"/>
<polyline points="81.90,216.00 85.70,217.59 78.10,220.78 85.70,223.96 78.10,227.15 85.70,230.34 78.10,233.52 81.90,238.30" fill="none" stroke="#1c1c1c" stroke-width="1.1" stroke-linejoin="miter"/>
<polyline points="81.90,238.30 81.90,259.80" fill="none" stroke="#1c1c1c" stroke-width="1.15" stroke-linejoin="miter"/>
<text x="66.70" y="235.60" font-size="7" font-weight="normal" text-anchor="start" >R1</text>
<text x="89.30" y="235.60" font-size="7" font-weight="normal" text-anchor="start" >33k</text>
<polyline points="125.90,204.60 125.90,259.80" fill="none" stroke="#1c1c1c" stroke-width="1.15" stroke-linejoin="miter"/>
<rect x="116.90" y="241.35" width="18.00" height="2.9" fill="#0a0a0a"/>
<rect x="116.90" y="246.75" width="18.00" height="2.9" fill="#0a0a0a"/>
<text x="104.50" y="249.20" font-size="7" font-weight="normal" text-anchor="start" >C3</text>
<text x="136.70" y="253.80" font-size="7" font-weight="normal" text-anchor="start" >330p</text>
<polyline points="25.30,226.60 36.80,226.60 36.80,259.80 248.30,259.80" fill="none" stroke="#1c1c1c" stroke-width="1.15" stroke-linejoin="miter"/>
<circle cx="59.20" cy="259.80" r="2.3" fill="#0a0a0a"/>
<circle cx="81.90" cy="259.80" r="2.3" fill="#0a0a0a"/>
<circle cx="125.90" cy="259.80" r="2.3" fill="#0a0a0a"/>
<polyline points="59.20,259.80 59.20,281.90" fill="none" stroke="#1c1c1c" stroke-width="1.15" stroke-linejoin="miter"/>
<polyline points="37.30,281.90 104.00,281.90" fill="none" stroke="#1c1c1c" stroke-width="1.8" stroke-linejoin="miter"/>
<circle cx="48.50" cy="281.90" r="2.3" fill="#0a0a0a"/>
<circle cx="59.20" cy="281.90" r="2.3" fill="#0a0a0a"/>
<text x="24.20" y="278.00" font-size="6.7" font-weight="normal" text-anchor="start" >0V#1</text>
<polyline points="48.50,281.90 48.50,290.70" fill="none" stroke="#1c1c1c" stroke-width="1.15" stroke-linejoin="miter"/>
<polyline points="48.50,290.70 52.30,292.22 44.70,295.26 52.30,298.31 44.70,301.35 52.30,304.39 44.70,307.44 48.50,312.00" fill="none" stroke="#1c1c1c" stroke-width="1.1" stroke-linejoin="miter"/>
<polyline points="48.50,312.00 48.50,336.80" fill="none" stroke="#1c1c1c" stroke-width="1.15" stroke-linejoin="miter"/>
<polyline points="37.90,336.80 59.20,336.80" fill="none" stroke="#1c1c1c" stroke-width="1.6" stroke-linejoin="miter"/>
<circle cx="48.50" cy="336.80" r="2.3" fill="#0a0a0a"/>
<text x="29.30" y="307.40" font-size="7" font-weight="normal" text-anchor="start" >R21</text>
<text x="56.00" y="307.40" font-size="7" font-weight="normal" text-anchor="start" >10</text>
<text x="33.30" y="350.00" font-size="7" font-weight="normal" text-anchor="start" >0V#2</text>
<circle cx="158.30" cy="204.60" r="17" fill="none" stroke="#1c1c1c" stroke-width="1.15"/>
<rect x="154.75" y="193.30" width="3.9" height="22.60" fill="#0a0a0a"/>
<polyline points="158.50,201.30 170.70,191.60" fill="none" stroke="#1c1c1c" stroke-width="1.15" stroke-linejoin="miter"/>
<polyline points="158.50,207.90 170.70,217.60" fill="none" stroke="#1c1c1c" stroke-width="1.15" stroke-linejoin="miter"/>
<polygon points="158.70,201.20 162.60,193.89 162.86,197.89 166.70,199.05" fill="#0a0a0a"/>
<polyline points="170.70,182.00 170.70,191.60" fill="none" stroke="#1c1c1c" stroke-width="1.15" stroke-linejoin="miter"/>
<polyline points="170.70,217.60 170.70,345.70" fill="none" stroke="#1c1c1c" stroke-width="1.15" stroke-linejoin="miter"/>
<text x="126.80" y="180.00" font-size="7" font-weight="normal" text-anchor="start" >Tr1</text>
<text x="126.80" y="188.00" font-size="7" font-weight="normal" text-anchor="start" >BC416</text>
<text x="174.00" y="219.20" font-size="7" font-weight="normal" text-anchor="start" >100n</text>
<circle cx="215.70" cy="204.60" r="17" fill="none" stroke="#1c1c1c" stroke-width="1.15"/>
<rect x="214.75" y="193.30" width="3.9" height="22.60" fill="#0a0a0a"/>
<polyline points="214.90,201.30 203.70,191.60" fill="none" stroke="#1c1c1c" stroke-width="1.15" stroke-linejoin="miter"/>
<polyline points="214.90,207.90 203.70,217.60" fill="none" stroke="#1c1c1c" stroke-width="1.15" stroke-linejoin="miter"/>
<polygon points="214.70,201.20 206.79,198.72 210.68,197.72 211.12,193.73" fill="#0a0a0a"/>
<polyline points="203.70,182.00 203.70,191.60" fill="none" stroke="#1c1c1c" stroke-width="1.15" stroke-linejoin="miter"/>
<polyline points="203.70,217.60 203.70,358.70" fill="none" stroke="#1c1c1c" stroke-width="1.15" stroke-linejoin="miter"/>
<text x="211.30" y="177.80" font-size="7" font-weight="normal" text-anchor="start" >Tr4</text>
<text x="211.30" y="185.60" font-size="7" font-weight="normal" text-anchor="start" >BC416</text>
<polyline points="170.70,182.00 170.70,160.70 175.30,160.70" fill="none" stroke="#1c1c1c" stroke-width="1.15" stroke-linejoin="miter"/>
<polyline points="175.30,160.80 176.74,157.20 179.63,164.40 182.52,157.20 185.41,164.40 188.29,157.20 191.18,164.40 194.07,157.20 198.40,160.80" fill="none" stroke="#1c1c1c" stroke-width="1.1" stroke-linejoin="miter"/>
<polyline points="198.40,160.80 203.70,160.80 203.70,182.00" fill="none" stroke="#1c1c1c" stroke-width="1.15" stroke-linejoin="miter"/>
<polygon points="183.20,158.20 181.30,153.60 183.20,153.60 185.10,153.60" fill="#0a0a0a"/>
<circle cx="170.70" cy="182.00" r="2.3" fill="#0a0a0a"/>
<circle cx="203.70" cy="182.00" r="2.3" fill="#0a0a0a"/>
<polyline points="170.70,182.00 184.10,182.00" fill="none" stroke="#1c1c1c" stroke-width="1.15" stroke-linejoin="miter"/>
<polyline points="189.60,182.00 203.70,182.00" fill="none" stroke="#1c1c1c" stroke-width="1.15" stroke-linejoin="miter"/>
<rect x="182.75" y="174.00" width="2.9" height="16.00" fill="#0a0a0a"/>
<rect x="188.15" y="174.00" width="2.9" height="16.00" fill="#0a0a0a"/>
<text x="150.80" y="147.90" font-size="7" font-weight="normal" text-anchor="start" >RV1</text>
<text x="150.40" y="155.10" font-size="7" font-weight="normal" text-anchor="start" >Set zero</text>
<text x="189.80" y="154.80" font-size="7" font-weight="normal" text-anchor="start" >1k</text>
<text x="181.20" y="200.50" font-size="7" font-weight="normal" text-anchor="start" >C5</text>
<circle cx="170.70" cy="303.60" r="2.3" fill="#0a0a0a"/>
<circle cx="203.70" cy="303.60" r="2.3" fill="#0a0a0a"/>
<polyline points="170.70,303.60 82.10,303.60 82.10,325.90" fill="none" stroke="#1c1c1c" stroke-width="1.15" stroke-linejoin="miter"/>
<rect x="73.10" y="324.45" width="18.00" height="2.9" fill="#0a0a0a"/>
<rect x="73.10" y="329.85" width="18.00" height="2.9" fill="#0a0a0a"/>
<polyline points="82.10,331.30 82.10,381.90" fill="none" stroke="#1c1c1c" stroke-width="1.15" stroke-linejoin="miter"/>
<polyline points="82.10,381.90 85.90,383.44 78.30,386.53 85.90,389.61 78.30,392.70 85.90,395.79 78.30,398.87 82.10,403.50" fill="none" stroke="#1c1c1c" stroke-width="1.1" stroke-linejoin="miter"/>
<polyline points="82.10,403.50 82.10,413.80" fill="none" stroke="#1c1c1c" stroke-width="1.15" stroke-linejoin="miter"/>
<circle cx="125.90" cy="303.60" r="2.3" fill="#0a0a0a"/>
<circle cx="82.10" cy="358.70" r="2.3" fill="#0a0a0a"/>
<polyline points="125.90,303.60 125.90,358.70 82.10,358.70" fill="none" stroke="#1c1c1c" stroke-width="1.15" stroke-linejoin="miter"/>
<polygon points="125.90,327.50 119.50,337.50 132.30,337.50" fill="#0a0a0a"/>
<polyline points="119.00,329.50 119.00,327.50 133.10,327.50" fill="none" stroke="#1c1c1c" stroke-width="1.8" stroke-linejoin="miter"/>
<text x="61.90" y="325.80" font-size="7" font-weight="normal" text-anchor="start" >C2</text>
<text x="87.70" y="339.90" font-size="7" font-weight="normal" text-anchor="start" >100p</text>
<text x="136.80" y="325.80" font-size="7" font-weight="normal" text-anchor="start" >D1</text>
<text x="136.00" y="337.20" font-size="7" font-weight="normal" text-anchor="start" >10V</text>
<text x="66.10" y="398.50" font-size="7" font-weight="normal" text-anchor="start" >R3</text>
<text x="88.80" y="398.50" font-size="7" font-weight="normal" text-anchor="start" >1k2</text>
<circle cx="170.70" cy="336.60" r="2.3" fill="#0a0a0a"/>
<circle cx="183.00" cy="358.70" r="17" fill="none" stroke="#1c1c1c" stroke-width="1.15"/>
<rect x="182.05" y="347.40" width="3.9" height="22.60" fill="#0a0a0a"/>
<polyline points="182.20,355.40 170.70,345.70" fill="none" stroke="#1c1c1c" stroke-width="1.15" stroke-linejoin="miter"/>
<polyline points="182.20,362.00 170.70,371.70" fill="none" stroke="#1c1c1c" stroke-width="1.15" stroke-linejoin="miter"/>
<polygon points="172.77,369.95 176.45,362.53 176.84,366.52 180.71,367.58" fill="#0a0a0a"/>
<circle cx="225.70" cy="358.70" r="17" fill="none" stroke="#1c1c1c" stroke-width="1.15"/>
<rect x="222.05" y="347.40" width="3.9" height="22.60" fill="#0a0a0a"/>
<polyline points="225.80,355.40 237.90,345.70" fill="none" stroke="#1c1c1c" stroke-width="1.15" stroke-linejoin="miter"/>
<polyline points="225.80,362.00 237.90,371.70" fill="none" stroke="#1c1c1c" stroke-width="1.15" stroke-linejoin="miter"/>
<polygon points="235.72,369.95 227.73,367.78 231.57,366.63 231.86,362.63" fill="#0a0a0a"/>
<polyline points="184.00,358.70 224.00,358.70" fill="none" stroke="#1c1c1c" stroke-width="1.15" stroke-linejoin="miter"/>
<circle cx="203.90" cy="358.70" r="2.3" fill="#0a0a0a"/>
<polyline points="203.70,303.60 237.90,303.60 237.90,345.70" fill="none" stroke="#1c1c1c" stroke-width="1.15" stroke-linejoin="miter"/>
<text x="144.00" y="357.20" font-size="7" font-weight="normal" text-anchor="start" >Tr2</text>
<text x="143.20" y="364.60" font-size="7" font-weight="normal" text-anchor="start" >BC414</text>
<text x="245.70" y="358.60" font-size="7" font-weight="normal" text-anchor="start" >Tr5</text>
<text x="245.70" y="366.20" font-size="7" font-weight="normal" text-anchor="start" >BC414</text>
<polyline points="170.70,371.70 170.70,386.00" fill="none" stroke="#1c1c1c" stroke-width="1.15" stroke-linejoin="miter"/>
<rect x="162.00" y="384.65" width="17.40" height="2.9" fill="#0a0a0a"/>
<rect x="162.00" y="390.15" width="17.40" height="2.9" fill="#0a0a0a"/>
<polyline points="170.70,391.60 170.70,413.86" fill="none" stroke="#1c1c1c" stroke-width="1.15" stroke-linejoin="miter"/>
<circle cx="170.70" cy="413.86" r="2.3" fill="#0a0a0a"/>
<polyline points="170.70,369.50 138.10,369.50 138.10,380.80" fill="none" stroke="#1c1c1c" stroke-width="1.15" stroke-linejoin="miter"/>
<polyline points="138.10,380.80 141.90,382.36 134.30,385.49 141.90,388.62 134.30,391.75 141.90,394.88 134.30,398.01 138.10,402.70" fill="none" stroke="#1c1c1c" stroke-width="1.1" stroke-linejoin="miter"/>
<polyline points="138.10,402.70 138.10,413.80" fill="none" stroke="#1c1c1c" stroke-width="1.15" stroke-linejoin="miter"/>
<circle cx="138.10" cy="413.80" r="2.3" fill="#0a0a0a"/>
<text x="122.10" y="400.40" font-size="7" font-weight="normal" text-anchor="start" >R4</text>
<text x="144.60" y="400.60" font-size="7" font-weight="normal" text-anchor="start" >1k</text>
<text x="156.50" y="384.40" font-size="7" font-weight="normal" text-anchor="start" >C4</text>
<text x="178.20" y="400.80" font-size="7" font-weight="normal" text-anchor="start" >100n</text>
<polyline points="237.90,371.70 237.90,380.80" fill="none" stroke="#1c1c1c" stroke-width="1.15" stroke-linejoin="miter"/>
<polyline points="237.90,380.40 241.70,382.04 234.10,385.33 241.70,388.61 234.10,391.90 241.70,395.19 234.10,398.47 237.90,403.40" fill="none" stroke="#1c1c1c" stroke-width="1.1" stroke-linejoin="miter"/>
<polyline points="237.90,403.40 237.90,413.99" fill="none" stroke="#1c1c1c" stroke-width="1.15" stroke-linejoin="miter"/>
<circle cx="237.90" cy="413.99" r="2.3" fill="#0a0a0a"/>
<polyline points="237.90,369.50 271.20,369.50 271.20,386.00" fill="none" stroke="#1c1c1c" stroke-width="1.15" stroke-linejoin="miter"/>
<rect x="262.50" y="385.35" width="17.40" height="2.9" fill="#0a0a0a"/>
<rect x="262.50" y="390.75" width="17.40" height="2.9" fill="#0a0a0a"/>
<polyline points="271.20,392.20 271.20,414.05" fill="none" stroke="#1c1c1c" stroke-width="1.15" stroke-linejoin="miter"/>
<circle cx="271.20" cy="414.05" r="2.3" fill="#0a0a0a"/>
<text x="221.30" y="402.50" font-size="7" font-weight="normal" text-anchor="start" >R6</text>
<text x="245.60" y="402.50" font-size="7" font-weight="normal" text-anchor="start" >1k</text>
<text x="252.00" y="382.50" font-size="7" font-weight="normal" text-anchor="start" >C7</text>
<text x="274.70" y="382.50" font-size="7" font-weight="normal" text-anchor="start" >1n</text>
</svg>
</body></html>
